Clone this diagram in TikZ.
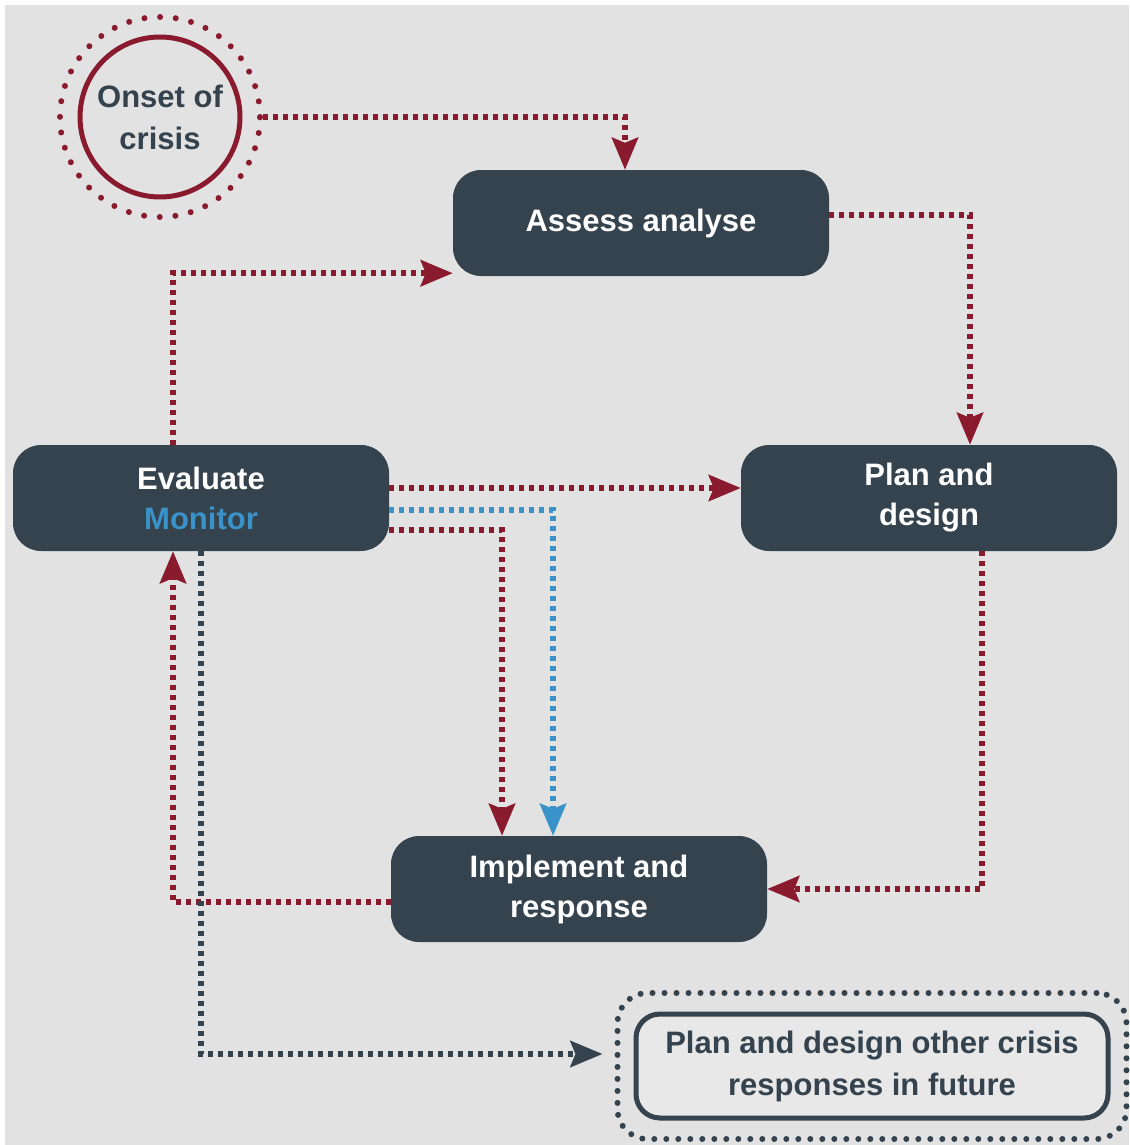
\documentclass[tikz,border=0pt]{standalone}
\usepackage{fontspec}
\setmainfont{Liberation Sans}
\usetikzlibrary{arrows.meta}

\definecolor{crisisred}{HTML}{8A1A2E}
\definecolor{slate}{HTML}{34434E}
\definecolor{monblue}{HTML}{3A93C8}
\definecolor{paper}{HTML}{E2E2E2}

\begin{document}
\begin{tikzpicture}[x=1pt, y=-1pt,
    step box/.style={fill=slate, text=white, rounded corners=28pt, minimum width=376pt,
        minimum height=106pt, inner sep=0pt, align=center,
        font=\bfseries\fontsize{31}{40}\selectfont},
    link/.style={line width=6pt, dash pattern=on 5pt off 5pt,
        -{Stealth[length=32pt, width=26pt, inset=5pt]}},
    red link/.style={link, draw=crisisred, crisisred},
    blue link/.style={link, draw=monblue, monblue},
    dark link/.style={link, draw=slate, slate},
    dot ring/.style={line width=6pt, line cap=round},]
    \useasboundingbox (0,0) rectangle (1129,1145);
    \fill[white] (0,0) rectangle (1129,1145);
    \fill[paper] (5,5) rectangle (1129,1145);

    \pgfmathsetmacro{\ringgap}{15.7}

    \coordinate (c onset) at (160,117);
    \coordinate (c future) at (872,1066);

    % start of the cycle
    \node[circle, draw=crisisred, line width=5pt, minimum size=160pt, inner sep=0pt,
        align=center, text=slate, font=\bfseries\fontsize{31}{42}\selectfont]
        (onset) at (c onset) {Onset of\\crisis};
    \node[circle, minimum size=200pt, draw=crisisred, dot ring,
        dash pattern=on 0pt off \ringgap pt] (onset ring) at (c onset) {};

    % the four steps
    \node[step box] (assess) at (641,223) {Assess analyse};
    \node[step box] (evaluate) at (201,498) {Evaluate\\\textcolor{monblue}{Monitor}};
    \node[step box] (plan) at (929,498) {Plan and\\design};
    \node[step box] (impl) at (579,889) {Implement and\\response};

    % later responses
    \node[draw=slate, line width=5pt, rounded corners=24pt, fill=paper!80!white,
        minimum width=472pt, minimum height=104pt, inner sep=0pt, align=center,
        text=slate, font=\bfseries\fontsize{31}{42}\selectfont]
        (future) at (c future) {Plan and design other crisis\\responses in future};
    \node[draw=slate, dot ring, dash pattern=on 0pt off 12pt, rounded corners=30pt,
        minimum width=509pt, minimum height=146pt] (future ring) at (c future) {};

    \draw[red link] (onset ring.east) -| ([xshift=-16pt]assess.north);
    \draw[red link] ([yshift=8pt]assess.east) -| ([xshift=41pt]plan.north);
    \draw[red link] ([xshift=-28pt]evaluate.north) |- ([yshift=3pt]assess.south west);
    \draw[red link] ([yshift=10pt]evaluate.east) -- ([yshift=10pt]plan.west);
    \draw[blue link] ([yshift=-12pt]evaluate.east) -| ([xshift=-26pt]impl.north);
    \draw[red link] ([yshift=-32pt]evaluate.east) -| ([xshift=-77pt]impl.north);
    \draw[red link] ([xshift=53pt]plan.south) |- (impl.east);
    \draw[red link] ([yshift=-13pt]impl.west) -| ([xshift=-28pt]evaluate.south);
    \draw[dark link, shorten >=12pt] (evaluate.south) |- ([yshift=12pt]future ring.west);

\end{tikzpicture}
\end{document}
